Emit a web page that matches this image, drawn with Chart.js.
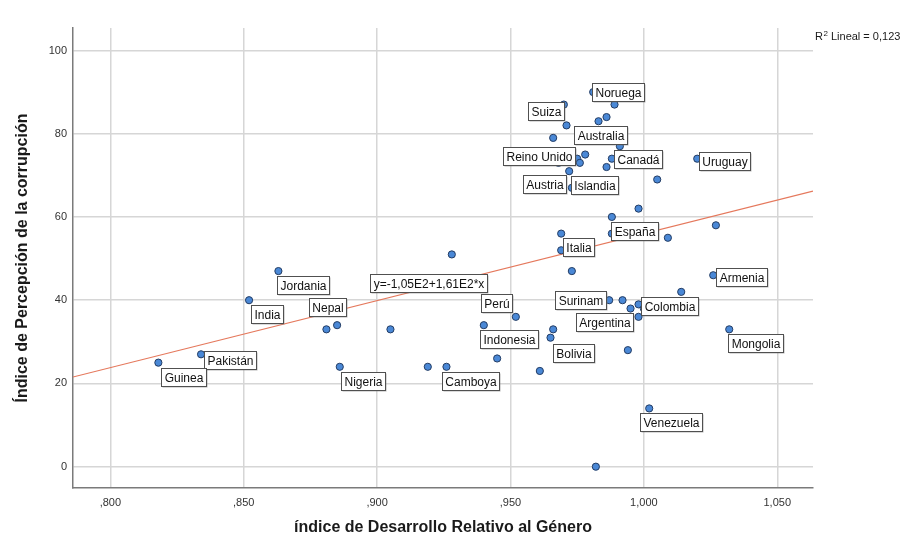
<!DOCTYPE html>
<html lang="es">
<head>
<meta charset="utf-8">
<title>IPC frente a IDG</title>
<script src="https://cdn.jsdelivr.net/npm/chart.js@4.4.1/dist/chart.umd.min.js"></script>
<style>
  html, body { margin: 0; padding: 0; background: #ffffff; }
  #wrap { position: relative; width: 907px; height: 541px; }
</style>
</head>
<body>
<div id="wrap"><canvas id="chart"></canvas></div>
<script>
// Índice de Desarrollo Relativo al Género (eje X)
const gdiValues = [
  0.981, 0.989, 0.970, 0.986, 0.983, 0.971, 0.966, 0.991, 0.978, 0.975,
  0.976, 0.968, 0.988, 0.986, 1.020, 0.972, 1.005, 0.973, 0.998, 0.988,
  1.027, 0.969, 0.988, 1.009, 0.969, 0.973, 1.026, 1.014, 0.987, 0.992,
  0.998, 0.995, 1.000, 0.952, 0.998, 0.966, 0.965, 0.994, 1.032, 0.945,
  0.961, 1.002, 0.982, 0.863, 0.852, 0.881, 0.885, 0.905, 0.834, 0.818,
  0.886, 0.928, 0.940, 0.919, 0.926
];
// Índice de Percepción de la corrupción (eje Y)
const cpiValues = [
  90, 87, 87, 84, 83, 82, 79, 77, 75, 74,
  73, 73, 74, 72, 74, 71, 69, 67, 62, 60,
  58, 56, 56, 55, 52, 47, 46, 42, 40, 40,
  39, 38, 38, 36, 36, 33, 31, 28, 33, 26,
  23, 14, 0, 47, 40, 33, 34, 33, 27, 25,
  24, 51, 34, 24, 24
];
// Etiquetas de país ('' = punto sin etiqueta)
const countryNames = [
  'Noruega', '', 'Suiza', '', '', '', '', 'Australia', '', '',
  '', 'Reino Unido', 'Canadá', '', 'Uruguay', 'Austria', '', 'Islandia', '', '',
  '', '', 'España', '', 'Italia', '', 'Armenia', '', 'Surinam', '',
  '', '', 'Colombia', 'Perú', 'Argentina', '', 'Bolivia', '', 'Mongolia', '',
  '', 'Venezuela', '', 'Jordania', 'India', '', 'Nepal', '', 'Pakistán', 'Guinea',
  'Nigeria', '', 'Indonesia', '', 'Camboya'
];
// Recta de ajuste lineal: y = -1,05E2 + 1,61E2*x
const fitIntercept = -105;
const fitSlope = 161;
const fitR2 = '0,123';
const xTickValues = [0.80, 0.85, 0.90, 0.95, 1.00, 1.05];
const yTickValues = [0, 20, 40, 60, 80, 100];

const X_MIN = 0.786, X_MAX = 1.0634;
const Y_MIN = -5.12, Y_MAX = 105.4;

const points = gdiValues.map((x, i) => ({ x: x, y: cpiValues[i] }));
const fitLine = [X_MIN, X_MAX].map(x => ({ x: x, y: fitIntercept + fitSlope * x }));

const FONT = '"Liberation Sans", Arial, Helvetica, sans-serif';

function fmtDec(v) {
  return v.toFixed(3).replace('.', ',').replace(/^0/, '');
}

// Cajas de etiqueta junto a cada punto (desplazamiento del centro en px)
const pointLabels = {
  id: 'pointLabels',
  afterDatasetsDraw(chart, args, opts) {
    const ctx = chart.ctx;
    const meta = chart.getDatasetMeta(0);
    ctx.save();
    ctx.font = '12px ' + FONT;
    ctx.textAlign = 'center';
    ctx.textBaseline = 'middle';
    const drawBox = (text, cx, cy) => {
      const w = Math.round(ctx.measureText(text).width + 6);
      const h = 18;
      const x0 = Math.round(cx - w / 2) + 0.5, y0 = Math.round(cy - h / 2) + 0.5;
      ctx.fillStyle = 'rgba(120,120,120,0.55)';
      ctx.fillRect(x0 + 1, y0 + 1, w, h);
      ctx.fillStyle = '#ffffff';
      ctx.fillRect(x0, y0, w, h);
      ctx.strokeStyle = '#505050';
      ctx.lineWidth = 1;
      ctx.strokeRect(x0, y0, w, h);
      ctx.fillStyle = '#111111';
      ctx.fillText(text, x0 + w / 2, y0 + h / 2 + 1);
    };
    meta.data.forEach((el, i) => {
      const name = countryNames[i];
      if (!name) return;
      const off = opts.offsets[name] || [20, 12];
      drawBox(name, el.x + off[0], el.y + off[1]);
    });
    // Ecuación de la recta
    const xs = chart.scales.x, ys = chart.scales.y;
    drawBox(opts.equation.text,
      xs.getPixelForValue(opts.equation.x),
      ys.getPixelForValue(opts.equation.y));
    ctx.restore();
  }
};

// Títulos de ejes y R²
const decorations = {
  id: 'decorations',
  afterDraw(chart) {
    const ctx = chart.ctx;
    const a = chart.chartArea;
    ctx.save();
    ctx.fillStyle = '#1a1a1a';
    ctx.font = 'bold 16px ' + FONT;
    ctx.textAlign = 'center';
    ctx.textBaseline = 'middle';
    ctx.fillText('índice de Desarrollo Relativo al Género', (a.left + a.right) / 2, 528);
    ctx.translate(23, (a.top + a.bottom) / 2);
    ctx.rotate(-Math.PI / 2);
    ctx.fillText('Índice de Percepción de la corrupción', 0, 0);
    ctx.restore();

    ctx.save();
    ctx.fillStyle = '#1a1a1a';
    ctx.textBaseline = 'alphabetic';
    ctx.textAlign = 'left';
    let x = a.right + 2;
    const base = 40;
    ctx.font = '11px ' + FONT;
    ctx.fillText('R', x, base);
    x += ctx.measureText('R').width + 0.5;
    ctx.font = '8px ' + FONT;
    ctx.fillText('2', x, base - 4);
    x += ctx.measureText('2').width;
    ctx.font = '11px ' + FONT;
    ctx.fillText(' Lineal = ' + fitR2, x, base);
    ctx.restore();
  }
};

new Chart(document.getElementById('chart'), {
  type: 'scatter',
  data: {
    datasets: [
      {
        label: 'Países',
        data: points,
        order: 0,
        pointRadius: 3.6,
        pointHoverRadius: 3.6,
        pointBackgroundColor: '#4a88d6',
        pointBorderColor: '#233c63',
        pointBorderWidth: 1
      },
      {
        type: 'line',
        label: 'Lineal',
        data: fitLine,
        order: 1,
        borderColor: '#e5785c',
        borderWidth: 1.2,
        pointRadius: 0,
        fill: false,
        tension: 0
      }
    ]
  },
  plugins: [pointLabels, decorations],
  options: {
    responsive: true,
    maintainAspectRatio: false,
    animation: false,
    events: [],
    layout: { padding: { top: 28, right: 94, left: 0, bottom: 0 } },
    plugins: {
      legend: { display: false },
      tooltip: { enabled: false },
      pointLabels: {
        equation: { text: 'y=-1,05E2+1,61E2*x', x: 0.9192, y: 44.2 },
        offsets: {
          'Noruega': [25, 0], 'Suiza': [-18, 6], 'Australia': [-19, -11],
          'Reino Unido': [-20, -7], 'Canadá': [26, 0], 'Uruguay': [27, 2],
          'Austria': [-25, 13], 'Islandia': [23, -3], 'España': [23, -3],
          'Italia': [17, -3], 'Armenia': [28, 2], 'Surinam': [-29, 0],
          'Colombia': [26, -3], 'Argentina': [-34, 5], 'Perú': [-19, -14],
          'Indonesia': [25, 14], 'Bolivia': [23, 15], 'Mongolia': [26, 14],
          'Venezuela': [22, 14], 'Camboya': [24, 14], 'Nigeria': [23, 14],
          'Jordania': [25, 14], 'India': [18, 14], 'Nepal': [-10, -18],
          'Pakistán': [29, 6], 'Guinea': [25, 14]
        }
      }
    },
    scales: {
      x: {
        type: 'linear',
        min: X_MIN,
        max: X_MAX,
        afterFit(scale) { scale.height = 53; },
        afterBuildTicks(scale) { scale.ticks = xTickValues.map(v => ({ value: v })); },
        ticks: {
          padding: 8,
          color: '#333333',
          font: { family: FONT, size: 11 },
          callback: v => fmtDec(v)
        },
        grid: { color: '#d6d6d6', lineWidth: 1.5, drawTicks: false },
        border: { color: '#7a7a7a', width: 1.5 }
      },
      y: {
        type: 'linear',
        min: Y_MIN,
        max: Y_MAX,
        afterFit(scale) { scale.width = 73; },
        afterBuildTicks(scale) { scale.ticks = yTickValues.map(v => ({ value: v })); },
        ticks: {
          padding: 6,
          color: '#333333',
          font: { family: FONT, size: 11 },
          callback: v => String(v)
        },
        grid: { color: '#d6d6d6', lineWidth: 1.5, drawTicks: false },
        border: { color: '#7a7a7a', width: 1.5 }
      }
    }
  }
});
</script>
</body>
</html>
